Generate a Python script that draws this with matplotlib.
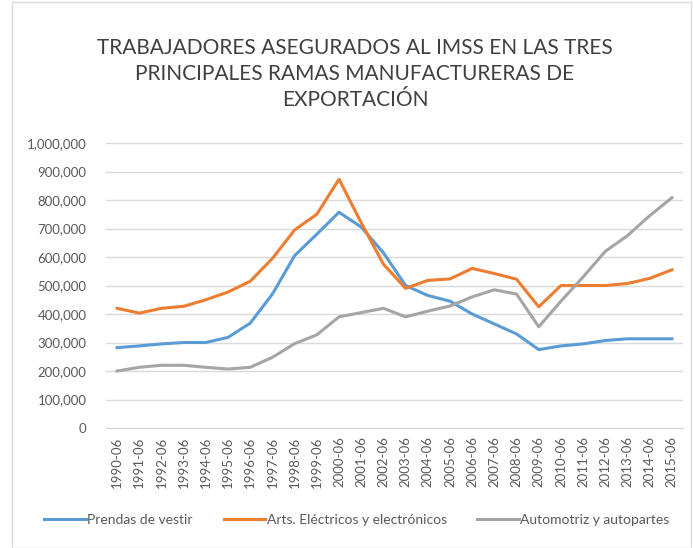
import matplotlib
matplotlib.use("Agg")
import matplotlib.pyplot as plt
from matplotlib.ticker import FuncFormatter, MultipleLocator
from matplotlib.patches import Rectangle

years = [f"{y}-06" for y in range(1990, 2016)]
prendas = [282000, 288000, 295000, 300000, 300000, 318000, 368000, 470000, 605000, 680000,
           757000, 705000, 615000, 500000, 465000, 445000, 400000, 365000, 330000, 275000,
           288000, 295000, 307000, 313000, 313000, 313000]
electricos = [420000, 403000, 420000, 427000, 450000, 477000, 515000, 595000, 695000, 750000,
              873000, 720000, 575000, 490000, 518000, 523000, 560000, 542000, 522000, 425000,
              500000, 500000, 500000, 507000, 525000, 555000]
automotriz = [200000, 213000, 220000, 220000, 213000, 207000, 213000, 248000, 296000, 327000,
              390000, 405000, 420000, 390000, 410000, 428000, 460000, 485000, 470000, 355000,
              445000, 530000, 620000, 675000, 745000, 808000]
labels = ["Prendas de vestir", "Arts. Eléctricos y electrónicos", "Automotriz y autopartes"]
colors = ["#5b9bd5", "#ed7d31", "#a5a5a5"]
title = "TRABAJADORES ASEGURADOS AL IMSS EN LAS TRES\nPRINCIPALES RAMAS MANUFACTURERAS DE\nEXPORTACIÓN"

plt.rcParams['font.family'] = ['Lato', 'DejaVu Sans']

fig = plt.figure(figsize=(6.93, 5.48), dpi=100)
ax = fig.add_axes([106/693, 1-428/548, 577/693, 285/548])

x = list(range(len(years)))
for data, lab, c in zip([prendas, electricos, automotriz], labels, colors):
    ax.plot(x, data, color=c, lw=2.2, label=lab, solid_joinstyle='round')

ax.set_xlim(-0.5, len(years) - 0.5)
ax.set_ylim(0, 1000000)
ax.yaxis.set_major_locator(MultipleLocator(100000))
ax.yaxis.set_major_formatter(FuncFormatter(lambda v, p: f"{int(v):,}"))
ax.set_xticks(x)
ax.set_xticklabels(years, rotation=90)
ax.grid(axis='y', color='#d9d9d9', lw=1)
ax.set_axisbelow(True)
for s in ['top', 'right', 'left']:
    ax.spines[s].set_visible(False)
ax.spines['bottom'].set_color('#d9d9d9')
ax.tick_params(axis='both', length=0, colors='#595959', labelsize=9.5)
ax.tick_params(axis='y', pad=14)
ax.tick_params(axis='x', pad=6)

fig.text(355/693, 1-74/548, title, ha='center', va='center', fontsize=15,
         color='#404040', linespacing=1.35, fontweight='normal')

leg = fig.legend(loc='center', bbox_to_anchor=(357/693, 1-520/548), ncol=3, frameon=False,
                 fontsize=10, handlelength=3.0, handletextpad=0.1, columnspacing=2.2)
for t in leg.get_texts():
    t.set_color('#595959')

fig.patches.append(Rectangle((12/693, 0), 1 - 12/693 - 2/693, 1 - 2/548, transform=fig.transFigure,
                             fill=False, edgecolor='#d9d9d9', lw=1))

fig.savefig("out.png", dpi=100)
